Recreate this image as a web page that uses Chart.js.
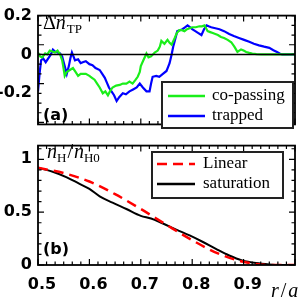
<!DOCTYPE html>
<html>
<head>
<meta charset="utf-8">
<script src="https://cdn.jsdelivr.net/npm/chart.js@4.4.1/dist/chart.umd.min.js"></script>
<style>
  html, body { margin: 0; padding: 0; background: #fff; }
  #wrap { position: relative; width: 300px; height: 300px; overflow: hidden; }
  #top { position: absolute; left: 0; top: 0; }
  #bot { position: absolute; left: 0; top: 130px; }
</style>
</head>
<body>
<div id="wrap">
  <canvas id="top" width="300" height="140" style="width:300px;height:140px"></canvas>
  <canvas id="bot" width="300" height="170" style="width:300px;height:170px"></canvas>
</div>
<script>
'use strict';

// (a) co-passing
var rCo = [0.500,0.504,0.508,0.514,0.518,0.523,0.528,0.533,0.538,0.543,0.547,0.549,0.552,0.556,0.562,0.568,0.573,0.578,0.583,0.587,0.593,0.600,0.605,0.610,0.615,0.620,0.626,0.631,0.636,0.640,0.645,0.652,0.659,0.665,0.672,0.678,0.684,0.690,0.694,0.698,0.700,0.705,0.711,0.715,0.720,0.727,0.733,0.737,0.740,0.746,0.752,0.756,0.760,0.766,0.770,0.775,0.780,0.785,0.790,0.795,0.800,0.807,0.814,0.819,0.824,0.830,0.835,0.840,0.845,0.850,0.856,0.862,0.869,0.876,0.882,0.888,0.895,0.900,0.905,0.911,0.917,0.925,0.935,1.000];
var dnCo = [0.01,-0.01,-0.015,0.005,0.0,0.02,0.015,0.01,0.02,0.0,-0.03,-0.06,-0.11,-0.09,-0.08,-0.07,-0.09,-0.11,-0.10,-0.10,-0.10,-0.11,-0.12,-0.13,-0.15,-0.17,-0.20,-0.19,-0.21,-0.19,-0.17,-0.16,-0.157,-0.15,-0.15,-0.14,-0.15,-0.13,-0.115,-0.09,-0.06,-0.03,0.005,-0.015,-0.01,0.01,0.02,0.04,0.07,0.055,0.075,0.06,0.05,0.085,0.11,0.125,0.125,0.12,0.13,0.135,0.14,0.14,0.145,0.145,0.15,0.12,0.115,0.11,0.105,0.10,0.09,0.085,0.075,0.063,0.04,0.013,0.026,0.02,0.013,0.008,0.005,0.002,0.0,0.0];

// (a) trapped
var rTr = [0.500,0.503,0.506,0.510,0.515,0.520,0.525,0.529,0.533,0.538,0.543,0.547,0.551,0.556,0.560,0.563,0.566,0.569,0.572,0.578,0.583,0.587,0.593,0.600,0.606,0.612,0.620,0.625,0.630,0.634,0.638,0.643,0.648,0.653,0.658,0.665,0.671,0.678,0.685,0.692,0.698,0.704,0.711,0.717,0.720,0.723,0.730,0.736,0.743,0.750,0.753,0.756,0.760,0.763,0.766,0.771,0.776,0.781,0.786,0.791,0.796,0.800,0.806,0.812,0.818,0.823,0.828,0.832,0.837,0.845,0.853,0.862,0.872,0.881,0.891,0.901,0.911,0.920,0.930,0.940,0.950,0.958,0.965,0.970,0.975,1.000];
var dnTr = [-0.19,-0.10,-0.03,-0.02,-0.04,-0.02,0.0,0.025,0.015,0.01,0.005,-0.01,-0.05,-0.10,-0.06,-0.02,0.01,-0.01,-0.03,-0.025,-0.045,-0.04,-0.035,-0.05,-0.055,-0.07,-0.08,-0.10,-0.12,-0.145,-0.17,-0.19,-0.21,-0.24,-0.22,-0.20,-0.205,-0.19,-0.18,-0.17,-0.15,-0.17,-0.19,-0.19,-0.15,-0.115,-0.11,-0.115,-0.10,-0.085,-0.065,-0.045,0.0,0.04,0.07,0.12,0.125,0.13,0.14,0.15,0.14,0.13,0.12,0.11,0.10,0.13,0.15,0.145,0.14,0.135,0.13,0.12,0.105,0.095,0.085,0.075,0.065,0.055,0.047,0.04,0.034,0.022,0.013,0.005,0.0,0.0];

// (b) Linear
var rLin = [0.50,0.55,0.60,0.65,0.70,0.75,0.80,0.85,0.90,0.95,1.00];
var nLin = [0.92,0.87,0.79,0.67,0.53,0.38,0.235,0.11,0.03,0.0,0.0];

// (b) saturation
var rSat = [0.500,0.530,0.556,0.580,0.600,0.620,0.645,0.672,0.700,0.720,0.742,0.770,0.795,0.820,0.847,0.872,0.897,0.924,0.950,0.970,1.000];
var nSat = [0.92,0.88,0.83,0.77,0.72,0.65,0.59,0.53,0.465,0.44,0.395,0.333,0.28,0.22,0.15,0.09,0.044,0.018,0.005,0.0,0.0];

var xTickLabels = [0.5, 0.6, 0.7, 0.8, 0.9];
var yTopTicks = [-0.2, 0, 0.2];
var yBotTicks = [0, 0.5, 1];

var tickFont = { family: 'DejaVu Sans', size: 16, weight: 'bold' };
var SERIF = 'Liberation Serif';

function pts(xs, ys) {
  return xs.map(function (x, i) { return { x: x, y: ys[i] }; });
}

function drawMath(ctx, x, y, parts) {
  parts.forEach(function (p) {
    ctx.font = p.font;
    ctx.fillText(p.t, x, y + (p.dy || 0));
    x += ctx.measureText(p.t).width + (p.gap || 0);
  });
}

// frame, inward ticks, labels and legend box
var panelPlugin = {
  id: 'panel',
  afterDraw: function (chart, args, o) {
    var ctx = chart.ctx, a = chart.chartArea;
    var xs = chart.scales.x, ys = chart.scales.y;
    ctx.save();
    ctx.strokeStyle = '#000';

    if (o.zeroLine) {
      ctx.lineWidth = 1.5;
      var y0 = ys.getPixelForValue(0);
      ctx.beginPath(); ctx.moveTo(a.left, y0); ctx.lineTo(a.right, y0); ctx.stroke();
    }

    ctx.lineWidth = 1.2;
    ctx.beginPath();
    for (var i = 0; i <= 30; i++) {
      var px = xs.getPixelForValue(0.5 + i / 60);
      var len = (i % 6 === 0) ? 6 : 3.5;
      ctx.moveTo(px, a.bottom); ctx.lineTo(px, a.bottom - len);
      ctx.moveTo(px, a.top); ctx.lineTo(px, a.top + len);
    }
    for (var k = 0; k <= o.yCount; k++) {
      var v = o.yStart + k * o.yStep;
      var py = ys.getPixelForValue(v);
      if (py < a.top - 0.5 || py > a.bottom + 0.5) continue;
      var l2 = (k % o.yMajorEvery === 0) ? 6 : 3.5;
      ctx.moveTo(a.left, py); ctx.lineTo(a.left + l2, py);
      ctx.moveTo(a.right, py); ctx.lineTo(a.right - l2, py);
    }
    ctx.stroke();

    ctx.lineWidth = 1.8;
    ctx.strokeRect(a.left, a.top, a.right - a.left, a.bottom - a.top);

    // panel tag
    ctx.fillStyle = '#000';
    ctx.textBaseline = 'middle';
    ctx.font = 'bold 16px "DejaVu Sans"';
    ctx.fillText(o.tag, 43, o.tagY);

    ctx.textBaseline = 'alphabetic';
    drawMath(ctx, o.title.x, o.title.y, o.title.parts);
    if (o.xTitle) drawMath(ctx, o.xTitle.x, o.xTitle.y, o.xTitle.parts);

    // legend
    var L = o.legend;
    ctx.fillStyle = '#fff';
    ctx.fillRect(L.x, L.y, L.w, L.h);
    ctx.strokeStyle = '#222';
    ctx.lineWidth = 2;
    ctx.strokeRect(L.x, L.y, L.w, L.h);
    L.items.forEach(function (it) {
      ctx.strokeStyle = it.color;
      ctx.lineWidth = 2.5;
      ctx.setLineDash(it.dash || []);
      ctx.beginPath(); ctx.moveTo(L.lx0, it.y); ctx.lineTo(L.lx1, it.y); ctx.stroke();
      ctx.setLineDash([]);
      ctx.fillStyle = '#000';
      ctx.textBaseline = 'middle';
      ctx.font = '17px "' + SERIF + '"';
      ctx.fillText(it.label, L.tx, it.y);
    });
    ctx.restore();
  }
};

var topChart = new Chart(document.getElementById('top'), {
  type: 'line',
  data: {
    datasets: [
      { label: 'co-passing', data: pts(rCo, dnCo), borderColor: '#1aee1a', borderWidth: 2.2, pointRadius: 0, tension: 0 },
      { label: 'trapped', data: pts(rTr, dnTr), borderColor: '#0000ff', borderWidth: 2.2, pointRadius: 0, tension: 0 }
    ]
  },
  options: {
    responsive: false,
    animation: false,
    layout: { padding: { top: 6, right: 5, bottom: 3, left: 0 } },
    plugins: {
      legend: { display: false },
      tooltip: { enabled: false },
      panel: {
        zeroLine: true,
        yStart: -0.35, yStep: 0.05, yCount: 11, yMajorEvery: 4,
        tag: '(a)', tagY: 116,
        title: { x: 43, y: 29, parts: [
          { t: '\u0394', font: '20px "' + SERIF + '"' },
          { t: 'n', font: 'italic 20px "' + SERIF + '"', gap: 1 },
          { t: 'TP', font: '13px "' + SERIF + '"', dy: 4 }
        ] },
        legend: {
          x: 162, y: 82, w: 131, h: 46, lx0: 168, lx1: 205, tx: 212,
          items: [
            { label: 'co-passing', color: '#1aee1a', y: 96 },
            { label: 'trapped', color: '#0000ff', y: 116 }
          ]
        }
      }
    },
    scales: {
      x: { type: 'linear', min: 0.5, max: 1.0, display: false },
      y: {
        min: -0.36, max: 0.2,
        grid: { display: false, drawTicks: false },
        border: { display: false },
        afterFit: function (s) { s.width = 38; },
        afterBuildTicks: function (s) { s.ticks = yTopTicks.map(function (v) { return { value: v }; }); },
        ticks: { padding: 6, color: '#000', font: tickFont, callback: function (v) { return String(v); } }
      }
    }
  },
  plugins: [panelPlugin]
});

var botChart = new Chart(document.getElementById('bot'), {
  type: 'line',
  data: {
    datasets: [
      { label: 'Linear', data: pts(rLin, nLin), borderColor: '#ff0000', borderWidth: 2.5, borderDash: [10, 6], pointRadius: 0, cubicInterpolationMode: 'monotone' },
      { label: 'saturation', data: pts(rSat, nSat), borderColor: '#000', borderWidth: 2, pointRadius: 0, cubicInterpolationMode: 'monotone' }
    ]
  },
  options: {
    responsive: false,
    animation: false,
    layout: { padding: { top: 7, right: 5, bottom: 0, left: 0 } },
    plugins: {
      legend: { display: false },
      tooltip: { enabled: false },
      panel: {
        zeroLine: false,
        yStart: 0, yStep: 0.1, yCount: 11, yMajorEvery: 5,
        tag: '(b)', tagY: 120,
        title: { x: 47, y: 28, parts: [
          { t: 'n', font: 'italic 20px "' + SERIF + '"' },
          { t: 'H', font: '13px "' + SERIF + '"', dy: 4, gap: 1 },
          { t: '/', font: '20px "' + SERIF + '"', gap: 1 },
          { t: 'n', font: 'italic 20px "' + SERIF + '"' },
          { t: 'H0', font: '13px "' + SERIF + '"', dy: 4 }
        ] },
        xTitle: { x: 271, y: 167, parts: [
          { t: 'r', font: 'italic 20px "' + SERIF + '"', gap: 2 },
          { t: '/', font: '20px "' + SERIF + '"', gap: 2 },
          { t: 'a', font: 'italic 20px "' + SERIF + '"' }
        ] },
        legend: {
          x: 152, y: 22, w: 131, h: 46, lx0: 157, lx1: 195, tx: 203,
          items: [
            { label: 'Linear', color: '#ff0000', y: 34, dash: [10, 6] },
            { label: 'saturation', color: '#000', y: 54 }
          ]
        }
      }
    },
    scales: {
      x: {
        type: 'linear', min: 0.5, max: 1.0,
        grid: { display: false, drawTicks: false },
        border: { display: false },
        afterFit: function (s) { s.height = 35; },
        afterBuildTicks: function (s) { s.ticks = xTickLabels.map(function (v) { return { value: v }; }); },
        ticks: { padding: 10, labelOffset: 4, maxRotation: 0, autoSkip: false, color: '#000', font: tickFont,
                 callback: function (v) { return v.toFixed(1); } }
      },
      y: {
        min: 0, max: 1.13,
        grid: { display: false, drawTicks: false },
        border: { display: false },
        afterFit: function (s) { s.width = 38; },
        afterBuildTicks: function (s) { s.ticks = yBotTicks.map(function (v) { return { value: v }; }); },
        ticks: { padding: 6, color: '#000', font: tickFont, callback: function (v) { return String(v); } }
      }
    }
  },
  plugins: [panelPlugin]
});
</script>
</body>
</html>
